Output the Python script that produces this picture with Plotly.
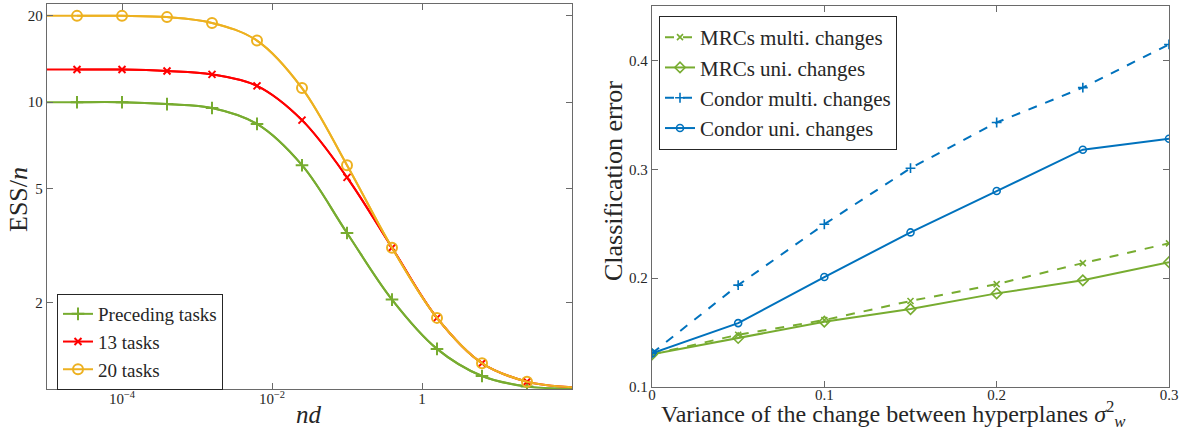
import plotly.graph_objects as go
import numpy as np

# ---------------- Left panel data (ESS/n vs nd, log-log) ----------------
nd_markers = [10**-4.6, 10**-4.0, 10**-3.4, 10**-2.8, 10**-2.2, 10**-1.6,
              10**-1.0, 10**-0.4, 10**0.2, 10**0.8, 10**1.4]
nd_ends = [1e-5, 1e2]

preceding = [10.0, 10.0, 9.85, 9.55, 8.4, 6.03, 3.5, 2.05, 1.38, 1.11, 1.02]
tasks13 = [13.0, 13.0, 12.85, 12.5, 11.4, 8.66, 5.47, 3.11, 1.77, 1.23, 1.06]
tasks20 = [20.0, 20.0, 19.8, 18.9, 16.4, 11.2, 6.03, 3.11, 1.77, 1.23, 1.06]
preceding_ends = [10.0, 1.005]
tasks13_ends = [13.0, 1.015]
tasks20_ends = [20.0, 1.015]

# ---------------- Right panel data ----------------
sigma2 = [0, 0.05, 0.1, 0.15, 0.2, 0.25, 0.3]
mrc_multi = [0.130, 0.148, 0.1615, 0.179, 0.1945, 0.2138, 0.232]
mrc_uni = [0.130, 0.145, 0.160, 0.1716, 0.186, 0.198, 0.2147]
condor_multi = [0.131, 0.1936, 0.2495, 0.301, 0.343, 0.375, 0.4147]
condor_uni = [0.131, 0.1587, 0.201, 0.242, 0.280, 0.318, 0.328]

GREEN = "#77AC30"
RED = "#FF0000"
YELLOW = "#EDB120"
BLUE = "#0072BD"
SERIF = "Liberation Serif"
AXC = "#6a6a6a"
TXT = "#262626"

fig = go.Figure()


def left_series(name, ys, ends, color, symbol, msize):
    xs = [nd_ends[0]] + nd_markers + [nd_ends[1]]
    yy = [ends[0]] + ys + [ends[1]]
    fig.add_trace(go.Scatter(x=xs, y=yy, mode="lines", line=dict(color=color, width=2, shape="spline", smoothing=1.0),
                             xaxis="x", yaxis="y", showlegend=False, legendgroup=name, hoverinfo="skip"))
    fig.add_trace(go.Scatter(x=nd_markers, y=ys, mode="lines+markers", name=name, legendgroup=name,
                             line=dict(color=color, width=2, shape="spline", smoothing=1.0),
                             marker=dict(symbol=symbol, size=msize, color=color,
                                         line=dict(color=color, width=2)),
                             xaxis="x", yaxis="y", legend="legend"))


left_series("Preceding tasks", preceding, preceding_ends, GREEN, "cross-thin-open", 9)
left_series("13 tasks", tasks13, tasks13_ends, RED, "x-thin-open", 7)
left_series("20 tasks", tasks20, tasks20_ends, YELLOW, "circle-open", 10)


def right_series(name, ys, color, dash, symbol, msize):
    fig.add_trace(go.Scatter(x=sigma2, y=ys, mode="lines+markers", name=name,
                             line=dict(color=color, width=2, dash=dash),
                             marker=dict(symbol=symbol, size=msize, color=color,
                                         line=dict(color=color, width=1.6)),
                             xaxis="x2", yaxis="y2", legend="legend2"))


right_series("MRCs multi. changes", mrc_multi, GREEN, "dash", "x-thin-open", 6)
right_series("MRCs uni. changes", mrc_uni, GREEN, "solid", "diamond-open", 8)
right_series("Condor multi. changes", condor_multi, BLUE, "dash", "cross-thin-open", 7)
right_series("Condor uni. changes", condor_uni, BLUE, "solid", "circle-open", 7)

W, H = 1183, 429
lx0, lx1, ly0, ly1 = 47, 572, 4, 389
rx0, rx1, ry0, ry1 = 652, 1169, 6, 387

axis_common = dict(showline=True, linecolor=AXC, linewidth=1.3, mirror="ticks", ticks="inside",
                   ticklen=6, tickwidth=1, tickcolor=AXC, showgrid=False, zeroline=False,
                   tickfont=dict(family=SERIF, size=15, color=TXT))

fig.update_layout(
    width=W, height=H,
    margin=dict(l=0, r=0, t=0, b=0),
    paper_bgcolor="white", plot_bgcolor="white",
    xaxis=dict(domain=[lx0 / W, lx1 / W], anchor="y", type="log", range=[-5, 2],
               tickvals=[1e-4, 1e-2, 1], ticktext=["10<sup>−4</sup>", "10<sup>−2</sup>", "1"],
               automargin=False, ticklabelstandoff=-4, **axis_common),
    yaxis=dict(domain=[1 - ly1 / H, 1 - ly0 / H], anchor="x", type="log", range=[0, np.log10(22)],
               tickvals=[2, 5, 10, 20], ticktext=["2", "5", "10", "20"], automargin=False, **axis_common),
    xaxis2=dict(domain=[rx0 / W, rx1 / W], anchor="y2", range=[0, 0.3],
                tickvals=[0, 0.1, 0.2, 0.3], ticktext=["0", "0.1", "0.2", "0.3"], automargin=False,
                ticklabelstandoff=-6, **axis_common),
    yaxis2=dict(domain=[1 - ry1 / H, 1 - ry0 / H], anchor="x2", range=[0.1, 0.45],
                tickvals=[0.1, 0.2, 0.3, 0.4], ticktext=["0.1", "0.2", "0.3", "0.4"], automargin=False, **axis_common),
    legend=dict(x=57 / W, y=1 - 294 / H, xanchor="left", yanchor="top", bgcolor="white",
                bordercolor=TXT, borderwidth=1, font=dict(family=SERIF, size=19, color=TXT),
                tracegroupgap=0, itemwidth=30),
    legend2=dict(x=659 / W, y=1 - 16 / H, xanchor="left", yanchor="top", bgcolor="white",
                 bordercolor=TXT, borderwidth=1, font=dict(family=SERIF, size=21, color=TXT),
                 tracegroupgap=0, itemwidth=30),
    annotations=[
        dict(text="ESS/<i>n</i>", x=18 / W, y=1 - 200 / H, xref="paper", yref="paper", showarrow=False,
             textangle=-90, font=dict(family=SERIF, size=26, color=TXT), xanchor="center", yanchor="middle"),
        dict(text="<i>nd</i>", x=309 / W, y=1 - 414 / H, xref="paper", yref="paper", showarrow=False,
             font=dict(family=SERIF, size=25, color=TXT), xanchor="center", yanchor="middle"),
        dict(text="Classification error", x=613 / W, y=1 - 181 / H, xref="paper", yref="paper", showarrow=False,
             textangle=-90, font=dict(family=SERIF, size=26, color=TXT), xanchor="center", yanchor="middle"),
        dict(text="Variance of the change between hyperplanes <i>σ</i><sup>2</sup><sub><i>w</i></sub>",
             x=893 / W, y=1 - 414 / H, xref="paper", yref="paper", showarrow=False,
             font=dict(family=SERIF, size=24, color=TXT), xanchor="center", yanchor="middle"),
    ],
)

fig.write_html("out.html")
